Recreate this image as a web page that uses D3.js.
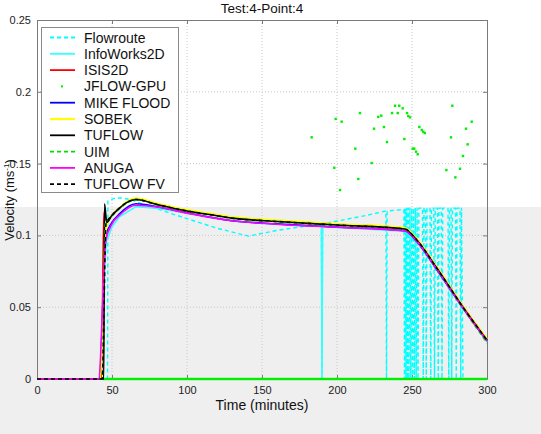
<!DOCTYPE html>
<html><head><meta charset="utf-8">
<script src="https://cdn.jsdelivr.net/npm/d3@7"></script>
<style>body{margin:0;background:#fff}svg{display:block;font-family:"Liberation Sans",Arial,sans-serif}</style>
</head><body><svg id="c" width="541" height="434"></svg>
<script>
const title = "Test:4-Point:4";
const xTicks = [0, 50, 100, 150, 200, 250, 300];
const yTicks = [0, 0.05, 0.1, 0.15, 0.2, 0.25];
const yTickLabels = ["0", "0.05", "0.1", "0.15", "0.2", "0.25"];
const seriesNames = ["Flowroute","InfoWorks2D","ISIS2D","JFLOW-GPU","MIKE FLOOD","SOBEK","TUFLOW","UIM","ANUGA","TUFLOW FV"];
const seriesColors = ["#00ffff","#33ffff","#ff0000","#00ee00","#0000ff","#ffff00","#000000","#00dd00","#ff00ff","#000000"];

// Flowroute (dashed cyan) with spikes
const flowT = [0,47,47.3,52,57,62,70,90,105,120,141,160,189.6,190,190.4,200,220,232.6,233,233.4,244.6,245,245.5,246,246.5,247,247.5,248,248.6,249.2,249.8,250.4,251,251.6,252.2,252.8,253.4,254,254.6,255.2,257,257.5,258,259,259.5,260,262,262.5,263,264.5,265,265.5,267,267.5,268,269.5,270,270.5,274,274.5,275,276,276.5,277,279,279.5,280,282,282.5,283,284,300];
const flowV = [0,0,0.124,0.126,0.126,0.125,0.122,0.115,0.110,0.105,0.0995,0.1035,0.108,0,0.108,0.110,0.114,0.117,0,0.117,0.118,0,0.119,0,0.119,0,0.119,0,0.119,0,0.119,0,0.119,0,0.119,0,0.119,0,0.119,0.119,0.119,0,0.119,0.119,0,0.119,0.119,0,0.119,0.119,0,0.119,0.119,0,0.119,0.119,0,0.119,0.119,0,0.119,0.119,0,0.119,0.119,0,0.119,0.119,0,0.119,0,0];

// InfoWorks2D (solid cyan)
const iwT = [0,42,46,50,55,66,80,100,130,160,189.6,190,190.4,200,245,253,266,284,300];
const iwV = [0,0,0.095,0.106,0.113,0.120,0.119,0.1155,0.110,0.1078,0.1062,0,0.1062,0.1055,0.103,0.096,0.077,0.049,0.026];

// ISIS2D (red)
const isisT = [0,43,44.5,46.5,50,55,60,66,80,100,115,130,160,200,245,253,266,284,300];
const isisV = [0,0,0.116,0.110,0.114,0.119,0.123,0.1255,0.122,0.1175,0.115,0.1125,0.1102,0.1077,0.105,0.0975,0.0785,0.0505,0.0275];

// JFLOW-GPU (green dots): zero values and scattered outliers
const jflowZeroT = [45,47,49,51,53,55,57,59,61,63,65,67,69,71,73,75,77,79,81,83,85,87,89,91,93,95,97,99,101,103,105,107,109,111,113,115,117,119,121,123,125,127,129,131,133,135,137,139,141,143,145,147,149,151,153,155,157,159,161,163,165,167,169,171,173,175,177,179,181,183,185,187,189,191,193,195,197,199,201,203,205,207,209,211,213,215,217,219,221,223,225,227,229,231,233,235,237,239,241,243,245,247,249,251,253,255,257,259,261,263,265,267,269,271,273,275,277,279,281,283,285,287,289,291,293,295,297,299];
const jflowOutT = [183.1,199.1,203.1,215.3,212.2,202,198.2,214.2,223.1,224.7,227.5,229.5,231.3,233.3,236.7,238.7,240.5,241.5,243.8,244.9,246.7,247.5,248.7,250.5,251.5,252.7,253.8,254.9,256.5,257.5,258.5,272.9,276,276.9,278.9,282,284,286,287.1,289.8];
const jflowOutV = [0.1683,0.1811,0.1792,0.1852,0.1604,0.1316,0.1471,0.1393,0.1504,0.1743,0.1825,0.1834,0.1755,0.165,0.1852,0.1903,0.1852,0.1903,0.1885,0.1671,0.1852,0.1831,0.1822,0.1604,0.1604,0.1583,0.1565,0.1755,0.1734,0.1722,0.1713,0.1455,0.1683,0.1903,0.1404,0.1464,0.1553,0.1743,0.1634,0.1792];

// MIKE FLOOD (blue)
const mikeT = [0,41.5,46,50,55,66,80,100,130,160,200,245,253,266,284,300];
const mikeV = [0,0,0.100,0.109,0.115,0.122,0.120,0.1157,0.1102,0.108,0.1058,0.1032,0.096,0.077,0.0495,0.0265];

// SOBEK (yellow)
const sobekT = [0,42,46,50,55,60,66,80,100,115,130,160,200,245,253,266,284,300];
const sobekV = [0,0,0.105,0.114,0.119,0.1235,0.1258,0.1223,0.1178,0.1153,0.1128,0.1105,0.108,0.1053,0.0978,0.0788,0.0508,0.0278];

// TUFLOW (black solid)
const tuflowT = [0,44.5,45,46.5,50,55,60,66,80,100,115,130,160,200,245,253,266,284,300];
const tuflowV = [0,0,0.122,0.109,0.114,0.119,0.123,0.125,0.1215,0.117,0.1145,0.112,0.1097,0.1072,0.1045,0.097,0.078,0.050,0.027];

// UIM (green dashed)
const uimT = [0,43.5,45.5,50,55,60,66,80,100,115,130,160,200,245,253,266,284,300];
const uimV = [0,0,0.108,0.1135,0.1185,0.1225,0.1248,0.1213,0.1168,0.1143,0.1118,0.1095,0.107,0.1043,0.0965,0.0775,0.049,0.025];

// ANUGA (magenta)
const anugaT = [0,41,46,50,55,66,80,100,130,160,200,245,253,266,284,300];
const anugaV = [0,0,0.097,0.108,0.114,0.121,0.1198,0.1155,0.1102,0.1078,0.1057,0.1032,0.0962,0.0772,0.0495,0.0265];

// TUFLOW FV (black dashed)
const tfvT = [0,43.5,46,50,55,60,66,80,100,115,130,160,200,245,253,266,284,300];
const tfvV = [0,0,0.108,0.1138,0.119,0.123,0.125,0.1215,0.117,0.1145,0.112,0.1097,0.1072,0.1045,0.097,0.078,0.050,0.027];

const svg = d3.select("#c");
const W = 541, H = 434;
const m = {left: 37, right: 487, top: 20, bottom: 379};
const x = d3.scaleLinear().domain([0, 300]).range([m.left, m.right]);
const y = d3.scaleLinear().domain([0, 0.25]).range([m.bottom, m.top]);

// background (white top, light grey lower band as in the picture)
svg.append("rect").attr("x",0).attr("y",0).attr("width",W).attr("height",H).attr("fill","#ffffff");
svg.append("rect").attr("x",0).attr("y",207).attr("width",W).attr("height",H-207).attr("fill","#efefef");

// grid
const grid = svg.append("g");
grid.selectAll("line.gx").data(xTicks.slice(1,-1)).join("line")
  .attr("x1",d=>x(d)).attr("x2",d=>x(d)).attr("y1",m.top).attr("y2",m.bottom)
  .attr("stroke","#c8c8c8").attr("stroke-width",1).attr("stroke-dasharray","1,2");
grid.selectAll("line.gy").data(yTicks.slice(1,-1)).join("line")
  .attr("y1",d=>y(d)).attr("y2",d=>y(d)).attr("x1",m.left).attr("x2",m.right)
  .attr("stroke","#c8c8c8").attr("stroke-width",1).attr("stroke-dasharray","1,2");

// frame & axes
const axColor = "#7a7a7a";
const gx = svg.append("g").attr("transform",`translate(0,${m.bottom})`)
  .call(d3.axisBottom(x).tickValues(xTicks).tickSizeInner(-4).tickSizeOuter(0).tickPadding(7));
const gy = svg.append("g").attr("transform",`translate(${m.left},0)`)
  .call(d3.axisLeft(y).tickValues(yTicks).tickFormat((d,i)=>yTickLabels[i]).tickSizeInner(-4).tickSizeOuter(0).tickPadding(6));
const gxt = svg.append("g").attr("transform",`translate(0,${m.top})`)
  .call(d3.axisTop(x).tickValues(xTicks).tickSizeInner(-4).tickSizeOuter(0).tickFormat(""));
const gyr = svg.append("g").attr("transform",`translate(${m.right},0)`)
  .call(d3.axisRight(y).tickValues(yTicks).tickSizeInner(-4).tickSizeOuter(0).tickFormat(""));
[gx,gy,gxt,gyr].forEach(g=>{
  g.selectAll("path").attr("stroke",axColor);
  g.selectAll("line").attr("stroke",axColor);
  g.selectAll("text").attr("fill","#222").style("font-size","11px").style("font-family","'Liberation Sans',Arial,sans-serif");
});

// series
const lineLin = d3.line().x(d=>x(d[0])).y(d=>y(d[1]));
const lineSm = d3.line().x(d=>x(d[0])).y(d=>y(d[1])).curve(d3.curveMonotoneX);
const plot = svg.append("g");
function addLine(T,V,color,dash,w,smooth){
  plot.append("path").datum(T.map((t,i)=>[t,V[i]]))
    .attr("d",smooth?lineSm:lineLin).attr("fill","none").attr("stroke",color)
    .attr("stroke-width",w||1.6).attr("stroke-dasharray",dash||null)
    .attr("stroke-linejoin","round");
}
addLine(flowT,flowV,seriesColors[0],"4,3",1.4,false);
addLine(iwT,iwV,seriesColors[1],null,1.6,false);
addLine(isisT,isisV,seriesColors[2],null,1.6,true);
// JFLOW-GPU dots
plot.selectAll("rect.jz").data(jflowZeroT).join("rect")
  .attr("x",d=>x(d)-1.6).attr("y",y(0)-1.2).attr("width",3.2).attr("height",2.4)
  .attr("fill",seriesColors[3]);
plot.selectAll("rect.jf").data(jflowOutT.map((t,i)=>[t,jflowOutV[i]])).join("rect")
  .attr("x",d=>x(d[0])-1.2).attr("y",d=>y(d[1])-1.2).attr("width",2.4).attr("height",2.4)
  .attr("fill",seriesColors[3]);
addLine(mikeT,mikeV,seriesColors[4],null,1.6,true);
addLine(sobekT,sobekV,seriesColors[5],null,2,true);
addLine(tuflowT,tuflowV,seriesColors[6],null,1.6,true);
addLine(uimT,uimV,seriesColors[7],"4,3",1.4,true);
addLine(anugaT,anugaV,seriesColors[8],null,1.6,true);
addLine(tfvT,tfvV,seriesColors[9],"4,3",1.6,true);

// legend
const lg = svg.append("g");
lg.append("rect").attr("x",41.5).attr("y",27.5).attr("width",137).attr("height",165)
  .attr("fill","#fff").attr("stroke","#8a8a8a").attr("stroke-width",1);
const dashes = ["4,3",null,null,"dot",null,null,null,"4,3",null,"4,3"];
seriesNames.forEach((n,i)=>{
  const yy = 37.5 + i*16.3;
  if (dashes[i]==="dot") {
    lg.append("rect").attr("x",61).attr("y",yy-1).attr("width",2).attr("height",2).attr("fill",seriesColors[i]);
  } else {
    lg.append("line").attr("x1",50).attr("x2",75).attr("y1",yy).attr("y2",yy)
      .attr("stroke",seriesColors[i]).attr("stroke-width", i===5?2.2:1.8)
      .attr("stroke-dasharray",dashes[i]);
  }
  lg.append("text").attr("x",84).attr("y",yy+5).text(n)
    .attr("fill","#111").style("font-size","14px");
});

// title and labels
svg.append("text").attr("x",262).attr("y",13).attr("text-anchor","middle")
  .style("font-size","13.5px").attr("fill","#111").text(title);
svg.append("text").attr("x",262).attr("y",410).attr("text-anchor","middle")
  .style("font-size","14px").attr("fill","#111").text("Time (minutes)");
const yl = svg.append("text").attr("transform","translate(14,200) rotate(-90)")
  .attr("text-anchor","middle").style("font-size","13px").attr("fill","#111");
yl.append("tspan").text("Velocity (ms");
yl.append("tspan").attr("dy",-5).style("font-size","8px").text("-1");
yl.append("tspan").attr("dy",5).text(")");
</script></body></html>
